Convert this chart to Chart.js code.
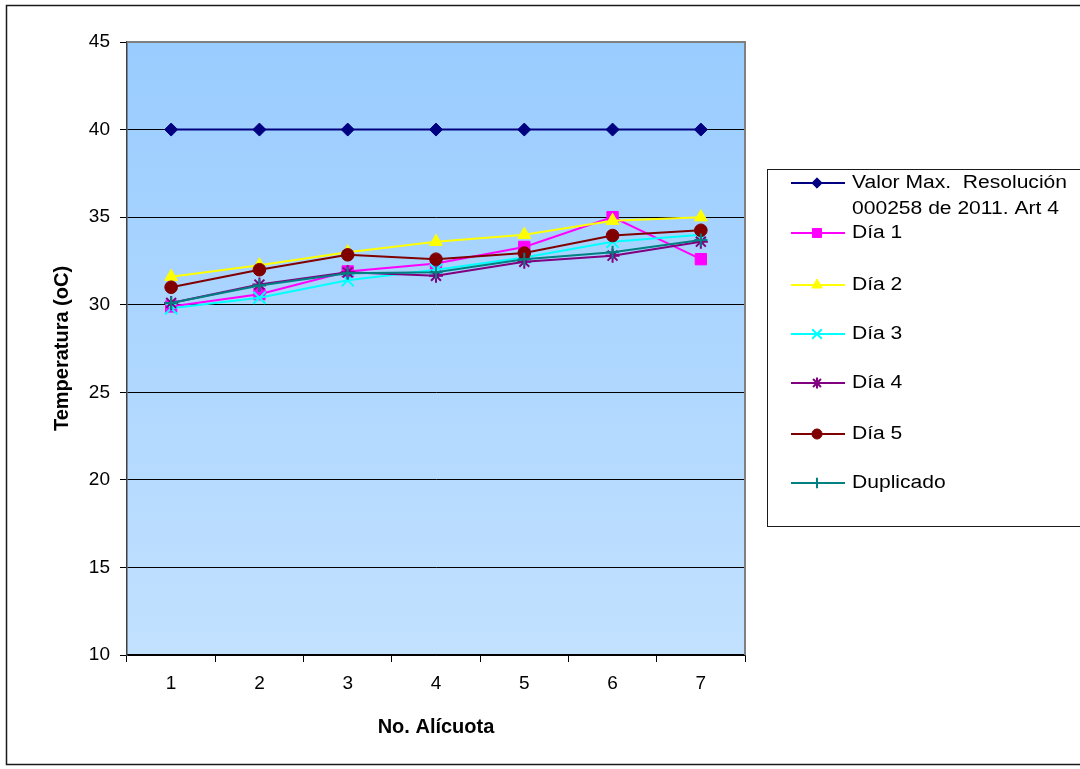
<!DOCTYPE html>
<html>
<head>
<meta charset="utf-8">
<script src="https://cdn.jsdelivr.net/npm/chart.js@4.4.1/dist/chart.umd.min.js"></script>
<style>
  html, body { margin: 0; padding: 0; background: #ffffff; }
  canvas { display: block; }
</style>
</head>
<body>
<canvas id="chart" width="1080" height="769"></canvas>
<script>
// Aliquot numbers along the x axis
const alicuotas = ['1', '2', '3', '4', '5', '6', '7'];

// Temperature readings (°C) per aliquot
const valorMax  = [40, 40, 40, 40, 40, 40, 40];
const dia1      = [29.9, 30.6, 31.9, 32.35, 33.3, 35.0, 32.6];
const dia2      = [31.6, 32.25, 33.0, 33.6, 34.0, 34.8, 35.0];
const dia3      = [29.8, 30.4, 31.4, 32.0, 32.7, 33.6, 34.0];
const dia4      = [30.1, 31.15, 31.85, 31.65, 32.45, 32.8, 33.6];
const dia5      = [31.0, 32.0, 32.85, 32.6, 32.95, 33.95, 34.25];
const duplicado = [30.1, 31.1, 31.8, 31.85, 32.6, 33.0, 33.7];

// Series labels
const seriesNames = ['Valor Max.  Resolución\n000258 de 2011. Art 4', 'Día 1', 'Día 2', 'Día 3', 'Día 4', 'Día 5', 'Duplicado'];

// Axis titles and y ticks
const yTitle = 'Temperatura (oC)';
const xTitle = 'No. Alícuota';
const yMin = 10, yMax = 45, yStep = 5;

const FONT = '"Liberation Sans", Arial, sans-serif';

const styles = [
  { color: '#000080', point: 'rectRot', radius: 6.5, fill: true },
  { color: '#FF00FF', point: 'rect', radius: 8, fill: true },
  { color: '#FFFF00', point: 'triangle', radius: 7.5, fill: true },
  { color: '#00FFFF', point: 'crossRot', radius: 8.5, fill: false },
  { color: '#800080', point: 'star', radius: 7, fill: false },
  { color: '#800000', point: 'circle', radius: 6.3, fill: true },
  { color: '#008080', point: 'cross', radius: 6.5, fill: false }
];

const seriesData = [valorMax, dia1, dia2, dia3, dia4, dia5, duplicado];

const datasets = seriesData.map((vals, i) => ({
  label: seriesNames[i],
  data: vals,
  borderColor: styles[i].color,
  backgroundColor: styles[i].color,
  borderWidth: 2,
  pointStyle: styles[i].point,
  pointRadius: styles[i].radius,
  pointHoverRadius: styles[i].radius,
  pointBorderWidth: styles[i].fill ? 1 : 2,
  pointBackgroundColor: styles[i].color,
  pointBorderColor: styles[i].color,
  tension: 0,
  fill: false,
  order: seriesData.length - i
}));

// Gradient plot background, outer frame and plot border
const framePlugin = {
  id: 'frame',
  beforeDraw(chart) {
    const { ctx, chartArea: a } = chart;
    ctx.save();
    ctx.fillStyle = '#ffffff';
    ctx.fillRect(0, 0, chart.width, chart.height);
    const g = ctx.createLinearGradient(0, a.top, 0, a.bottom);
    g.addColorStop(0, '#99CCFF');
    g.addColorStop(1, '#C2E1FF');
    ctx.fillStyle = g;
    ctx.fillRect(a.left, a.top, a.right - a.left, a.bottom - a.top);
    ctx.strokeStyle = '#1a1a1a';
    ctx.lineWidth = 1.5;
    ctx.strokeRect(6.5, 5.5, 1100, 759);
    ctx.restore();
  },
  afterDraw(chart) {
    const { ctx, chartArea: a } = chart;
    ctx.save();
    ctx.strokeStyle = '#808080';
    ctx.lineWidth = 2;
    ctx.beginPath();
    ctx.moveTo(a.left, a.top);
    ctx.lineTo(a.right, a.top);
    ctx.lineTo(a.right, a.bottom);
    ctx.stroke();
    ctx.restore();
  }
};

// Boxed legend to the right of the plot
const boxLegendPlugin = {
  id: 'boxLegend',
  afterDraw(chart) {
    const { ctx } = chart;
    const box = { x: 767.5, y: 169.5, w: 400, h: 357 };
    const rowY = [183, 233, 285, 334, 383, 434, 483];
    ctx.save();
    ctx.strokeStyle = '#1a1a1a';
    ctx.lineWidth = 1;
    ctx.strokeRect(box.x, box.y, box.w, box.h);
    chart.data.datasets.forEach((ds, i) => {
      const y = rowY[i];
      ctx.strokeStyle = ds.borderColor;
      ctx.lineWidth = 2;
      ctx.beginPath();
      ctx.moveTo(791, y);
      ctx.lineTo(845, y);
      ctx.stroke();
      ctx.fillStyle = ds.pointBackgroundColor;
      ctx.strokeStyle = ds.pointBorderColor;
      ctx.lineWidth = ds.pointBorderWidth;
      Chart.helpers.drawPoint(ctx, {
        pointStyle: ds.pointStyle,
        radius: ds.pointRadius * 0.8,
        rotation: 0,
        borderWidth: ds.pointBorderWidth
      }, 817, y);
      ctx.fillStyle = '#000000';
      ctx.font = '18px ' + FONT;
      ctx.textBaseline = 'middle';
      ctx.textAlign = 'left';
      ds.label.split('\n').forEach((line, k) => {
        ctx.save();
        ctx.translate(852, y + k * 26);
        ctx.scale(1.17, 1);
        ctx.fillText(line, 0, 0);
        ctx.restore();
      });
    });
    ctx.restore();
  }
};

new Chart(document.getElementById('chart'), {
  type: 'line',
  data: { labels: alicuotas, datasets },
  plugins: [framePlugin, boxLegendPlugin],
  options: {
    responsive: false,
    animation: false,
    layout: { padding: { left: 0, top: 42, right: 335, bottom: 0 } },
    plugins: {
      legend: { display: false },
      tooltip: { enabled: false }
    },
    scales: {
      x: {
        type: 'category',
        offset: true,
        grid: {
          offset: true,
          drawOnChartArea: false,
          tickLength: 7,
          color: '#000000',
          tickWidth: 1
        },
        border: { color: '#000000', width: 1.5 },
        ticks: {
          color: '#000000',
          font: { family: FONT, size: 19 },
          padding: 10,
          maxRotation: 0
        },
        title: {
          display: true,
          text: xTitle,
          color: '#000000',
          font: { family: FONT, size: 20, weight: 'bold' },
          padding: { top: 0, bottom: 30 }
        },
        afterFit(scale) { scale.height = 114; }
      },
      y: {
        min: yMin,
        max: yMax,
        ticks: {
          stepSize: yStep,
          color: '#000000',
          font: { family: FONT, size: 19 },
          padding: 10
        },
        grid: {
          color: '#000000',
          lineWidth: 1,
          tickLength: 7
        },
        border: { color: '#404040', width: 1.5 },
        title: {
          display: true,
          text: yTitle,
          color: '#000000',
          font: { family: FONT, size: 20, weight: 'bold' },
          padding: { top: 50, bottom: 0 }
        },
        afterFit(scale) { scale.width = 127; }
      }
    }
  }
});
</script>
</body>
</html>
